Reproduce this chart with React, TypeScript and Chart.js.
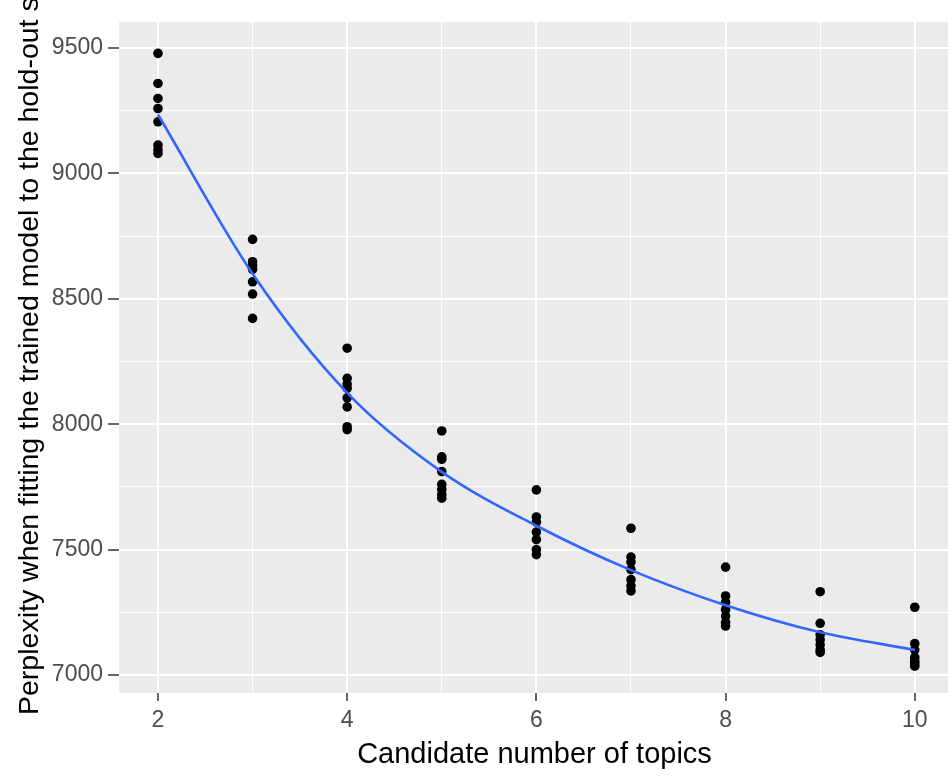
import React, { useEffect, useRef } from "react";
import { Chart, registerables } from "chart.js";

Chart.register(...registerables);

const topics = [2, 3, 4, 5, 6, 7, 8, 9, 10];
const perplexityK2 = [9479, 9359, 9299, 9259, 9206, 9113, 9095, 9080];
const perplexityK3 = [8737, 8648, 8632, 8618, 8568, 8519, 8422];
const perplexityK4 = [8303, 8183, 8160, 8143, 8105, 8069, 7990, 7978];
const perplexityK5 = [7973, 7870, 7860, 7811, 7760, 7740, 7720, 7705];
const perplexityK6 = [7738, 7630, 7610, 7570, 7540, 7500, 7480];
const perplexityK7 = [7585, 7470, 7450, 7420, 7380, 7355, 7335];
const perplexityK8 = [7430, 7315, 7290, 7260, 7235, 7210, 7195];
const perplexityK9 = [7332, 7206, 7160, 7140, 7120, 7100, 7090];
const perplexityK10 = [7270, 7125, 7100, 7070, 7055, 7045, 7035];
const smoothValues = [9235, 8600, 8125, 7810, 7595, 7418, 7278, 7170, 7100];

const yTicks = [7000, 7250, 7500, 7750, 8000, 8250, 8500, 8750, 9000, 9250, 9500];
const xTicks = [2, 3, 4, 5, 6, 7, 8, 9, 10];
const yTitle = "Perplexity when fitting the trained model to the hold-out set";
const xTitle = "Candidate number of topics";

const FONT = "'Liberation Sans', Arial, sans-serif";
const X_MIN = 1.588;
const PX_PER_TOPIC = 94.6;

export default function App() {
  const ref = useRef<HTMLCanvasElement | null>(null);

  useEffect(() => {
    if (!ref.current) return;
    const groups = [
      perplexityK2, perplexityK3, perplexityK4, perplexityK5, perplexityK6,
      perplexityK7, perplexityK8, perplexityK9, perplexityK10,
    ];
    const points: { x: number; y: number }[] = [];
    groups.forEach((g, i) => g.forEach((v) => points.push({ x: topics[i], y: v })));
    const smooth = topics.map((t, i) => ({ x: t, y: smoothValues[i] }));

    const bgPlugin = {
      id: "panelBg",
      beforeDraw(chart: any) {
        const { ctx, chartArea } = chart;
        ctx.save();
        ctx.fillStyle = "#EBEBEB";
        ctx.fillRect(chartArea.left, chartArea.top, chartArea.right - chartArea.left, chartArea.bottom - chartArea.top);
        ctx.restore();
      },
      afterDraw(chart: any) {
        const { ctx, chartArea } = chart;
        ctx.save();
        ctx.fillStyle = "#000000";
        ctx.textBaseline = "alphabetic";
        // x-axis title, centred on the visible panel
        ctx.font = `29px ${FONT}`;
        ctx.textAlign = "center";
        ctx.fillText(xTitle, (chartArea.left + 948) / 2 + 1, 763);
        // y-axis title, rotated
        ctx.translate(38, 715);
        ctx.rotate(-Math.PI / 2);
        ctx.font = `28.5px ${FONT}`;
        ctx.textAlign = "left";
        ctx.fillText(yTitle, 0, 0);
        ctx.restore();
      },
    };

    const chart = new Chart(ref.current, {
      type: "scatter",
      data: {
        datasets: [
          {
            type: "line",
            data: smooth,
            borderColor: "#3366FF",
            borderWidth: 2.6,
            pointRadius: 0,
            showLine: true,
            fill: false,
            cubicInterpolationMode: "monotone",
          } as any,
          {
            data: points,
            backgroundColor: "#000000",
            borderColor: "#000000",
            pointRadius: 4.8,
            borderWidth: 0,
          },
        ],
      },
      options: {
        animation: false,
        responsive: false,
        devicePixelRatio: 1,
        layout: { padding: { top: 22, right: 0, left: 0, bottom: 0 } },
        plugins: { legend: { display: false }, tooltip: { enabled: false } },
        scales: {
          x: {
            type: "linear",
            min: X_MIN,
            max: 10.5,
            afterBuildTicks: (scale: any) => {
              scale.ticks = xTicks.map((v) => ({ value: v }));
            },
            afterFit: (scale: any) => {
              scale.height = 89;
            },
            border: { display: false },
            grid: {
              color: "#FFFFFF",
              lineWidth: (c: any) => (c.tick && c.tick.value % 2 === 0 ? 2 : 1),
              tickColor: (c: any) => (c.tick && c.tick.value % 2 === 0 ? "#333333" : "rgba(0,0,0,0)"),
              tickLength: 8,
              tickWidth: 1.5,
            },
            ticks: {
              autoSkip: false,
              maxRotation: 0,
              padding: 6,
              color: "#4D4D4D",
              font: { family: FONT, size: 23 },
              callback: (v: any) => (Number(v) % 2 === 0 ? String(v) : ""),
            },
            title: { display: false },
          },
          y: {
            type: "linear",
            min: 6928,
            max: 9604,
            afterBuildTicks: (scale: any) => {
              scale.ticks = yTicks.map((v) => ({ value: v }));
            },
            afterFit: (scale: any) => {
              scale.width = 119;
            },
            border: { display: false },
            grid: {
              color: "#FFFFFF",
              lineWidth: (c: any) => (c.tick && c.tick.value % 500 === 0 ? 2 : 1),
              tickColor: (c: any) => (c.tick && c.tick.value % 500 === 0 ? "#333333" : "rgba(0,0,0,0)"),
              tickLength: 11,
              tickWidth: 1.5,
            },
            ticks: {
              autoSkip: false,
              padding: 5,
              color: "#4D4D4D",
              font: { family: FONT, size: 23 },
              callback: (v: any) => (Number(v) % 500 === 0 ? String(v) : ""),
            },
            title: { display: false },
          },
        },
      },
      plugins: [bgPlugin],
    });

    // keep the x scale at a fixed pixel density, letting the panel run past the right edge
    const area = chart.chartArea;
    const xScaleOpts: any = (chart.options.scales as any).x;
    xScaleOpts.min = X_MIN;
    xScaleOpts.max = X_MIN + (area.right - area.left) / PX_PER_TOPIC;
    chart.update();

    return () => chart.destroy();
  }, []);

  return (
    <div style={{ position: "absolute", left: 0, top: 0, width: 948, height: 782, overflow: "hidden", background: "#FFFFFF" }}>
      <canvas ref={ref} width={980} height={782} style={{ width: 980, height: 782, display: "block" }} />
    </div>
  );
}
